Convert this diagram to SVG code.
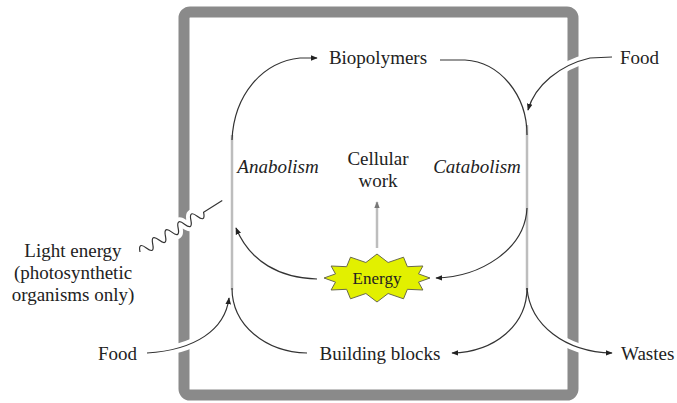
<svg xmlns="http://www.w3.org/2000/svg" width="677" height="403" viewBox="0 0 677 403">
<defs>
<marker id="ah" viewBox="0 0 10 10" refX="9" refY="5" markerWidth="7" markerHeight="7" markerUnits="userSpaceOnUse" orient="auto">
<path d="M0,1 L10,5 L0,9 z" fill="#222"/>
</marker>
<marker id="ahg" viewBox="0 0 10 10" refX="9" refY="5" markerWidth="7" markerHeight="7" markerUnits="userSpaceOnUse" orient="auto">
<path d="M0,1 L10,5 L0,9 z" fill="#777"/>
</marker>
</defs>
<rect width="677" height="403" fill="#fff"/>
<g id="cell">
<rect x="184" y="12" width="389" height="383" rx="6" fill="none" stroke="#8a8a8a" stroke-width="11"/>
</g>
<g id="connectors" fill="none">
<g stroke="#fff" stroke-width="9">
<path d="M147,353 C195,350 225,330 229,300"/>
<path d="M612,57 L590,58 C560,65 535,85 529,110"/>
<path d="M527,288 C530,325 565,352 610,353"/>
<path d="M0,0 q3.75,-10 7.5,0 t7.5,0 t7.5,0 t7.5,0 t7.5,0 t7.5,0 t7.5,0 t7.5,0 t7.5,0 t7.5,0 L97,0" transform="translate(140,252) rotate(-32)"/>
</g>
<g stroke="#bdbdbd" stroke-width="2.5">
<path d="M232,135 L232,290"/>
<path d="M527,125 L527,290"/>
<path d="M377,248 L377,202" marker-end="url(#ahg)"/>
</g>
<g stroke="#333" stroke-width="1.2">
<path d="M232,140 C234,95 262,62 300,58 L317,58" marker-end="url(#ah)"/>
<path d="M440,60 L465,60 C500,62 527,95 527,135"/>
<path d="M527,288 C527,325 495,352 452,353" marker-end="url(#ah)"/>
<path d="M527,288 C530,325 565,352 612,353" marker-end="url(#ah)"/>
<path d="M527,208 C525,250 480,277 436,278" marker-end="url(#ah)"/>
<path d="M307,353 C265,352 232,325 232,288"/>
<path d="M147,353 C195,350 225,330 229,298" marker-end="url(#ah)"/>
<path d="M317,279 C280,278 250,262 236,228" marker-end="url(#ah)"/>
<path d="M612,57 L590,58 C560,65 535,85 528,110" marker-end="url(#ah)"/>
<path d="M0,0 q3.75,-10 7.5,0 t7.5,0 t7.5,0 t7.5,0 t7.5,0 t7.5,0 t7.5,0 t7.5,0 t7.5,0 t7.5,0 L97,0" transform="translate(140,252) rotate(-32)"/>
</g>
</g>
<g id="biopolymers"><text x="378" y="64" text-anchor="middle" font-family="Liberation Serif" font-size="19" fill="#222">Biopolymers</text></g>
<g id="building-blocks"><text x="380" y="360" text-anchor="middle" font-family="Liberation Serif" font-size="19" fill="#222">Building blocks</text></g>
<g id="food-in"><text x="620" y="64" font-family="Liberation Serif" font-size="19" fill="#222">Food</text></g>
<g id="food-left"><text x="137" y="360" text-anchor="end" font-family="Liberation Serif" font-size="19" fill="#222">Food</text></g>
<g id="wastes"><text x="621" y="360" font-family="Liberation Serif" font-size="19" fill="#222">Wastes</text></g>
<g id="anabolism"><text font-style="italic" x="278" y="173" text-anchor="middle" font-family="Liberation Serif" font-size="19" fill="#222">Anabolism</text></g>
<g id="catabolism"><text font-style="italic" x="477" y="173" text-anchor="middle" font-family="Liberation Serif" font-size="19" fill="#222">Catabolism</text></g>
<g id="cellular-work"><text x="378" y="165" text-anchor="middle" font-family="Liberation Serif" font-size="19" fill="#222">Cellular</text><text x="378" y="187" text-anchor="middle" font-family="Liberation Serif" font-size="19" fill="#222">work</text></g>
<g id="light-energy">
<text x="73" y="257" text-anchor="middle" font-family="Liberation Serif" font-size="19" fill="#222">Light energy</text>
<text x="73" y="279" text-anchor="middle" font-family="Liberation Serif" font-size="19" fill="#222">(photosynthetic</text>
<text x="73" y="301" text-anchor="middle" font-family="Liberation Serif" font-size="19" fill="#222">organisms only)</text>
</g>
<g id="energy">
<polygon points="430,278 418.5,282.1 422.9,290 407.4,289.3 403.5,298.8 388.1,293.5 377,302 365.9,293.5 350.5,298.8 346.6,289.3 331.1,290 335.5,282.1 324,278 335.5,273.9 331.1,266 346.6,266.7 350.5,257.2 365.9,262.5 377,254 388.1,262.5 403.5,257.2 407.4,266.7 422.9,266 418.5,273.9" fill="#e2f000" stroke="#6a6a4a" stroke-width="1"/>
<text x="377" y="284" text-anchor="middle" font-family="Liberation Serif" font-size="17" fill="#222">Energy</text>
</g>
</svg>
